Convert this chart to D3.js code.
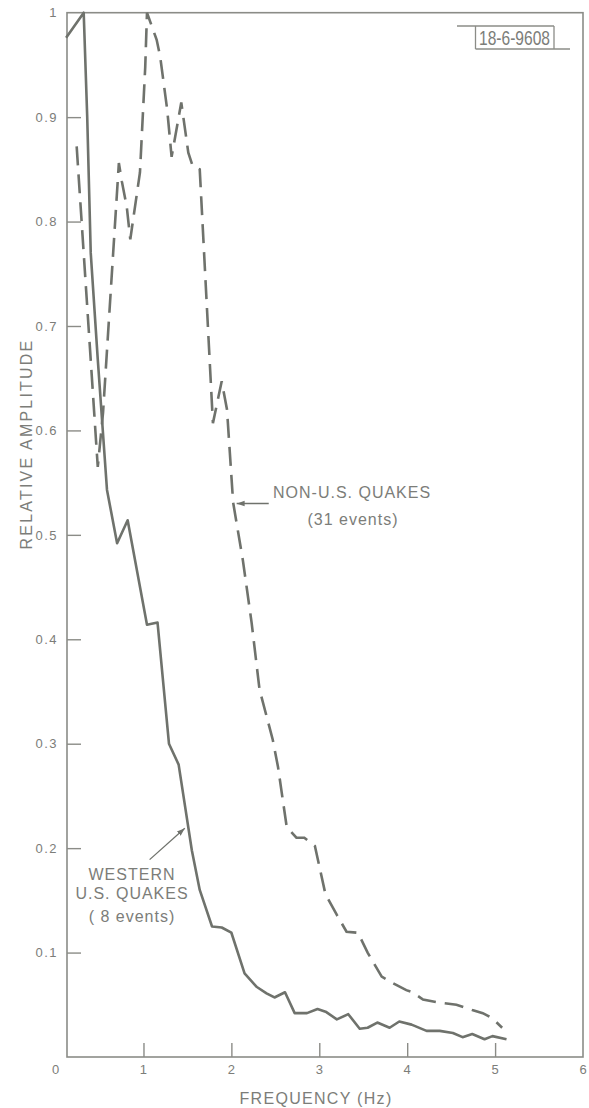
<!DOCTYPE html>
<html>
<head>
<meta charset="utf-8">
<script src="https://cdn.jsdelivr.net/npm/d3@7"></script>
<style>
  html, body { margin: 0; padding: 0; background: #fff; }
  #quake-chart { width: 589px; height: 1108px; }
</style>
</head>
<body>
<div id="quake-chart"></div>
<script>
// Spectra: frequency (Hz) / relative amplitude
const westernFreq = [0.12, 0.32, 0.36, 0.40, 0.48, 0.585, 0.70, 0.82, 1.04, 1.16,
  1.29, 1.40, 1.55, 1.64, 1.78, 1.89, 2.00, 2.15, 2.29, 2.40,
  2.49, 2.61, 2.72, 2.86, 2.98, 3.08, 3.20, 3.33, 3.46, 3.55,
  3.66, 3.80, 3.91, 4.05, 4.22, 4.37, 4.52, 4.63, 4.74, 4.88,
  4.97, 5.13];
const westernAmp = [0.976, 1.0, 0.90, 0.77, 0.668, 0.543, 0.492, 0.514, 0.414, 0.416,
  0.30, 0.28, 0.198, 0.16, 0.125, 0.124, 0.119, 0.080, 0.067, 0.061,
  0.057, 0.062, 0.042, 0.042, 0.046, 0.043, 0.036, 0.041, 0.027, 0.028,
  0.033, 0.028, 0.034, 0.031, 0.025, 0.025, 0.023, 0.019, 0.022, 0.017,
  0.020, 0.017];

const nonUSFreq = [0.24, 0.48, 0.54, 0.72, 0.755, 0.81, 0.85, 0.96, 1.02, 1.04,
  1.15, 1.19, 1.27, 1.32, 1.43, 1.51, 1.56, 1.64, 1.79, 1.89,
  1.95, 2.02, 2.13, 2.23, 2.32, 2.47, 2.53, 2.63, 2.74, 2.83,
  2.95, 3.07, 3.20, 3.31, 3.44, 3.55, 3.71, 3.83, 3.99, 4.06,
  4.18, 4.37, 4.56, 4.74, 4.86, 4.97, 5.08];
const nonUSAmp = [0.872, 0.565, 0.617, 0.856, 0.838, 0.814, 0.783, 0.847, 0.948, 1.0,
  0.974, 0.958, 0.907, 0.862, 0.914, 0.866, 0.853, 0.850, 0.607, 0.647,
  0.620, 0.531, 0.476, 0.416, 0.352, 0.304, 0.278, 0.220, 0.210, 0.210,
  0.202, 0.156, 0.136, 0.120, 0.119, 0.100, 0.077, 0.071, 0.064, 0.062,
  0.055, 0.052, 0.050, 0.045, 0.042, 0.037, 0.028];

const xTicks = [0, 1, 2, 3, 4, 5, 6];
const yTicks = [0.1, 0.2, 0.3, 0.4, 0.5, 0.6, 0.7, 0.8, 0.9, 1];
const yTickLabels = ["0.1", "0.2", "0.3", "0.4", "0.5", "0.6", "0.7", "0.8", "0.9", "1"];

(function drawQuakeChart() {
  const W = 589, H = 1108;
  const INK = "#6f726c", TEXT = "#7c7d79", FRAME = "#8b8c87";
  const FONT = "'Liberation Sans', Arial, sans-serif";

  // plot frame in pixels (frame's left edge sits a little right of 0 Hz)
  const left = 67, right = 583, top = 12.7, bottom = 1057;

  const svg = d3.select("#quake-chart").append("svg")
    .attr("width", W).attr("height", H)
    .style("font-family", FONT);

  const x = d3.scaleLinear().domain([0.13, 6]).range([left, right]);
  const y = d3.scaleLinear().domain([0, 1]).range([bottom, top]);

  /* Frame */
  svg.append("rect")
    .attr("x", left).attr("y", top)
    .attr("width", right - left).attr("height", bottom - top)
    .attr("fill", "none").attr("stroke", FRAME).attr("stroke-width", 1.6);

  /* Axes — ticks point inward */
  const xAxis = svg.append("g").attr("transform", `translate(0,${bottom})`)
    .call(d3.axisBottom(x).tickValues(xTicks).tickFormat(d3.format("d"))
      .tickSize(-14).tickPadding(8));
  xAxis.select(".domain").remove();
  xAxis.selectAll(".tick line").attr("stroke", FRAME).attr("stroke-width", 1.4)
    .attr("display", d => (d === 0 || d === 6) ? "none" : null);
  xAxis.selectAll(".tick text").attr("fill", TEXT)
    .style("font-size", "13px").style("letter-spacing", "1px");

  const yAxis = svg.append("g").attr("transform", `translate(${left},0)`)
    .call(d3.axisLeft(y).tickValues(yTicks).tickFormat((d, i) => yTickLabels[i])
      .tickSize(-14).tickPadding(9));
  yAxis.select(".domain").remove();
  yAxis.selectAll(".tick line").attr("stroke", FRAME).attr("stroke-width", 1.4)
    .attr("display", d => d === 1 ? "none" : null);
  yAxis.selectAll(".tick text").attr("fill", TEXT)
    .style("font-size", "13px").style("letter-spacing", "1.5px");

  svg.append("text")
    .attr("x", 316).attr("y", 1104)
    .attr("text-anchor", "middle").attr("fill", TEXT)
    .style("font-size", "16px").style("letter-spacing", "1.3px")
    .text("FREQUENCY (Hz)");

  svg.append("text")
    .attr("transform", "translate(32,444) rotate(-90)")
    .attr("text-anchor", "middle").attr("fill", TEXT)
    .style("font-size", "16px").style("letter-spacing", "2.2px")
    .text("RELATIVE AMPLITUDE");

  /* Figure number box */
  const tag = svg.append("g").attr("stroke", FRAME).attr("stroke-width", 1.3).attr("fill", "none");
  tag.append("line").attr("x1", 457).attr("x2", 554).attr("y1", 26).attr("y2", 26);
  tag.append("line").attr("x1", 475.5).attr("x2", 475.5).attr("y1", 26).attr("y2", 49);
  tag.append("line").attr("x1", 554).attr("x2", 554).attr("y1", 26).attr("y2", 49);
  tag.append("line").attr("x1", 475.5).attr("x2", 570).attr("y1", 49).attr("y2", 49);
  svg.append("text")
    .attr("x", 479).attr("y", 45)
    .attr("textLength", 71).attr("lengthAdjust", "spacingAndGlyphs")
    .attr("fill", TEXT).style("font-size", "21px")
    .text("18-6-9608");

  /* Curves */
  const line = d3.line().x(d => x(d[0])).y(d => y(d[1]));
  const western = westernFreq.map((f, i) => [f, westernAmp[i]]);
  const nonUS = nonUSFreq.map((f, i) => [f, nonUSAmp[i]]);

  svg.append("path").datum(western)
    .attr("d", line).attr("fill", "none")
    .attr("stroke", INK).attr("stroke-width", 2.6).attr("stroke-linejoin", "round");

  svg.append("path").datum(nonUS)
    .attr("d", line).attr("fill", "none")
    .attr("stroke", INK).attr("stroke-width", 2.6)
    .attr("stroke-dasharray", "19,9");

  /* Annotations */
  svg.append("defs").append("marker")
    .attr("id", "arrow").attr("viewBox", "0 0 10 10")
    .attr("refX", 10).attr("refY", 5)
    .attr("markerWidth", 8).attr("markerHeight", 8)
    .attr("markerUnits", "userSpaceOnUse")
    .attr("orient", "auto")
    .append("path").attr("d", "M0,1.5 L10,5 L0,8.5 Z").attr("fill", INK);

  svg.append("line")
    .attr("x1", x(2.425)).attr("y1", y(0.53))
    .attr("x2", x(2.06)).attr("y2", y(0.53))
    .attr("stroke", INK).attr("stroke-width", 1.3)
    .attr("marker-end", "url(#arrow)");

  svg.append("text").attr("x", 273).attr("y", 498)
    .attr("fill", TEXT).style("font-size", "16px").style("letter-spacing", "1px")
    .text("NON-U.S. QUAKES");
  svg.append("text").attr("x", 353).attr("y", 525).attr("text-anchor", "middle")
    .attr("fill", TEXT).style("font-size", "16px").style("letter-spacing", "1px")
    .text("(31 events)");

  svg.append("line")
    .attr("x1", x(1.07)).attr("y1", y(0.189))
    .attr("x2", x(1.47)).attr("y2", y(0.219))
    .attr("stroke", INK).attr("stroke-width", 1.3)
    .attr("marker-end", "url(#arrow)");

  [["WESTERN", 880], ["U.S. QUAKES", 899], ["( 8 events)", 922]].forEach(([t, ty]) => {
    svg.append("text").attr("x", 132).attr("y", ty).attr("text-anchor", "middle")
      .attr("fill", TEXT).style("font-size", "16px").style("letter-spacing", "1px")
      .text(t);
  });
})();
</script>
</body>
</html>
